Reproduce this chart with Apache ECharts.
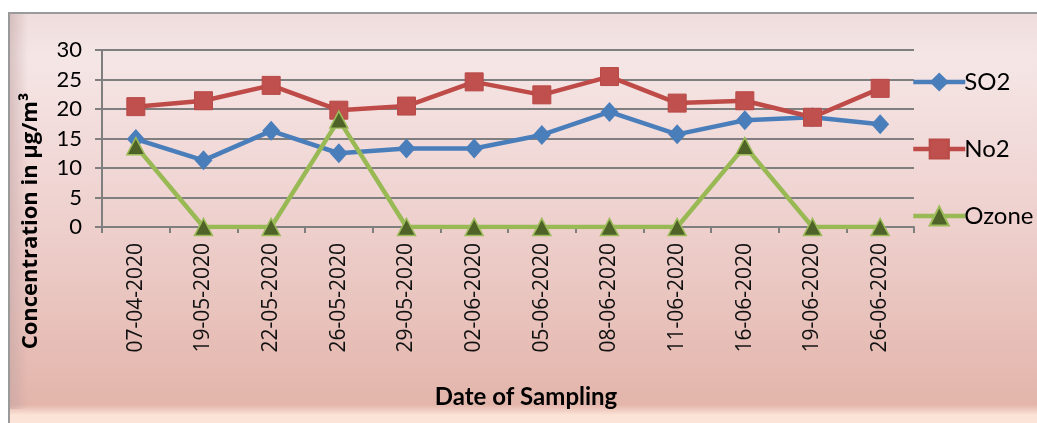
<!DOCTYPE html>
<html><head><meta charset="utf-8">
<script src="https://cdn.jsdelivr.net/npm/echarts@6/dist/echarts.min.js"></script>
<style>html,body{margin:0;padding:0;background:#fff}#c{width:1037px;height:423px}</style>
</head><body><div id="c"></div>
<script>
const categories = ['07-04-2020','19-05-2020','22-05-2020','26-05-2020','29-05-2020','02-06-2020','05-06-2020','08-06-2020','11-06-2020','16-06-2020','19-06-2020','26-06-2020'];
const so2 = [14.9, 11.3, 16.3, 12.5, 13.3, 13.3, 15.6, 19.5, 15.7, 18.1, 18.6, 17.4];
const no2 = [20.4, 21.4, 24.0, 19.8, 20.5, 24.6, 22.4, 25.5, 21.0, 21.4, 18.6, 23.5];
const ozone = [13.7, 0, 0, 18.2, 0, 0, 0, 0, 0, 13.7, 0, 0];
const yTicks = [0, 5, 10, 15, 20, 25, 30];
const yTitle = 'Concentration in µg/m³';
const xTitle = 'Date of Sampling';

const chart = echarts.init(document.getElementById('c'));
chart.setOption({
  animation: false,
  graphic: [
    {type:'rect', shape:{x:8,y:12,width:1040,height:420}, style:{fill:'#9a9a9a'}, z:-10},
    {type:'rect', shape:{x:10,y:14,width:1040,height:420},
     style:{fill:new echarts.graphic.LinearGradient(0,0,0,1,[
       {offset:0,color:'#efdcdc'},{offset:0.1,color:'#f5e6e6'},{offset:0.5,color:'#eed0cd'},{offset:0.93,color:'#e3b5ab'},{offset:0.955,color:'#fbe3d6'},{offset:1,color:'#fde9dc'}])}, z:-9},
    {type:'rect', shape:{x:10,y:14,width:18,height:395},
     style:{fill:new echarts.graphic.LinearGradient(0,0,1,0,[
       {offset:0,color:'rgba(190,160,160,0.5)'},{offset:1,color:'rgba(190,160,160,0)'}])}, z:-8},
    {type:'text', x:31, y:221, rotation:Math.PI/2,
     style:{text:yTitle, fontFamily:'Open Sans', fontWeight:'bold', fontSize:22, fill:'#000', align:'center', verticalAlign:'middle'}},
    {type:'text', x:526, y:397,
     style:{text:xTitle, fontFamily:'Lato', fontWeight:'bold', fontSize:24, fill:'#000', align:'center', verticalAlign:'middle'}}
  ],
  grid: {left:102, right:123, top:50, bottom:196, containLabel:false},
  xAxis: {
    type:'category', data:categories, boundaryGap:true,
    axisLine:{lineStyle:{color:'#7f7f7f', width:2}},
    axisTick:{show:true, length:6, inside:false, lineStyle:{color:'#7f7f7f', width:2}},
    axisLabel:{rotate:90, margin:16, color:'#111', fontFamily:'Open Sans', fontSize:21, interval:0}
  },
  yAxis: {
    type:'value', min:0, max:30, interval:5,
    axisLine:{show:true, lineStyle:{color:'#7f7f7f', width:2}},
    axisTick:{show:true, length:7, lineStyle:{color:'#7f7f7f', width:2}},
    splitLine:{lineStyle:{color:'#7f7f7f', width:2}},
    axisLabel:{margin:20, color:'#000', fontFamily:'Lato', fontSize:22,
      formatter: v => yTicks.includes(v) ? String(v) : ''}
  },
  legend: {
    orient:'vertical', left:906, top:65, itemGap:43, itemWidth:52, itemHeight:24,
    lineStyle:{width:4.5},
    textStyle:{fontFamily:'Lato', fontSize:24, color:'#000', padding:[0,0,0,-6]},
    data:['SO2','No2','Ozone']
  },
  series: [
    {name:'SO2', type:'line', data:so2, symbol:'diamond', symbolSize:[18,20],
     lineStyle:{color:'#4a7ebb', width:4.5}, itemStyle:{color:'#4a7ebb'}},
    {name:'No2', type:'line', data:no2, symbol:'rect', symbolSize:18,
     lineStyle:{color:'#be4b48', width:4.5}, itemStyle:{color:'#c0504d', borderColor:'#b84a47', borderWidth:1}},
    {name:'Ozone', type:'line', data:ozone, symbol:'triangle', symbolSize:[18,17],
     lineStyle:{color:'#98b954', width:4.5}, itemStyle:{color:'#4f6228', borderColor:'#9bbb59', borderWidth:1.5}}
  ]
});
</script></body></html>
